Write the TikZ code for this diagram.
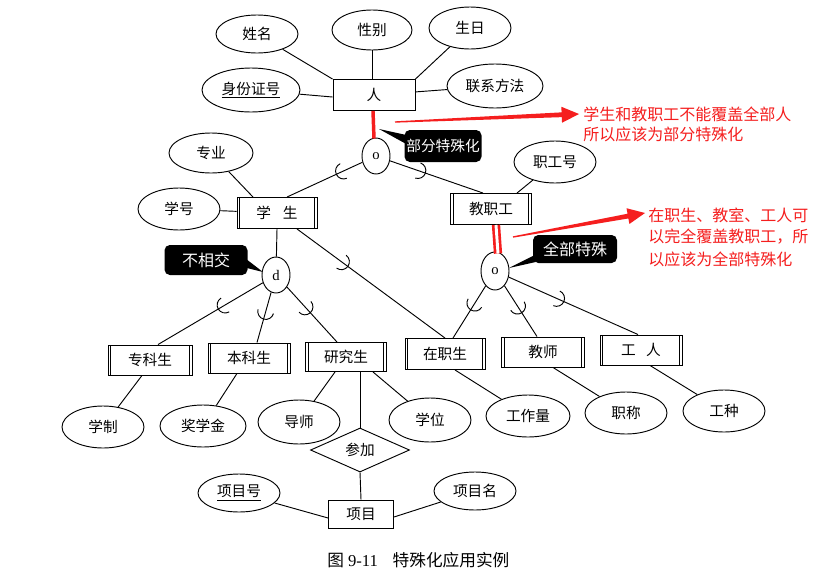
\documentclass[tikz,border=0pt]{standalone}
\usepackage{fontspec}
\setmainfont{Liberation Serif}
\newfontfamily\cjk{Noto Sans CJK SC}
\usetikzlibrary{shapes.geometric,calc,arrows.meta,decorations.markings}

\definecolor{markred}{RGB}{245,30,30}

\tikzset{
  sz/.style 2 args={minimum width=#1*0.75pt, minimum height=#2*0.75pt},
  lbl/.style={font=\cjk\fontsize{11}{13}\selectfont},
  attr/.style={lbl, ellipse, draw, line width=0.7pt, inner sep=0pt},
  ent/.style={lbl, rectangle, draw, line width=0.7pt, inner sep=0pt},
  subent/.style={ent, path picture={
      \draw[line width=0.7pt] ([xshift=2pt]path picture bounding box.north west) -- ([xshift=2pt]path picture bounding box.south west);
      \draw[line width=0.7pt] ([xshift=-2pt]path picture bounding box.north east) -- ([xshift=-2pt]path picture bounding box.south east);}},
  spec/.style={ellipse, draw, line width=0.7pt, inner sep=0pt, font=\fontsize{11}{13}\selectfont},
  rel/.style={lbl, diamond, aspect=2.25, draw, line width=0.7pt, inner sep=0pt},
  link/.style={line width=0.7pt},
  subset/.style={link, postaction={decorate}, decoration={markings,
      mark=at position #1 with {\draw[line width=0.7pt] (0,6pt) arc[start angle=90,end angle=-90,radius=6pt];}}},
  callout/.style={fill=black, rounded corners=4pt, inner sep=0pt, text=white, font=\cjk\fontsize{12}{14}\selectfont},
  redlink/.style={draw=markred, line width=2.6pt},
  note/.style={text=markred, anchor=west, inner sep=0pt, font=\cjk\fontsize{12}{14}\selectfont},
}

% tapered red arrow from #1 to #2
\newcommand\taperarrow[2]{%
  \coordinate (hb) at ($(#2)!13pt!(#1)$);
  \fill[markred] ($(#1)!0.5pt!90:(#2)$) -- ($(hb)!1.8pt!90:(#2)$) -- ($(hb)!6pt!90:(#2)$)
    -- (#2) -- ($(hb)!6pt!-90:(#2)$) -- ($(hb)!1.8pt!-90:(#2)$) -- ($(#1)!0.5pt!-90:(#2)$) -- cycle;}

\begin{document}
\begin{tikzpicture}[x=0.75pt,y=-0.75pt]
\useasboundingbox[fill=white] (0,0) rectangle (821,582);

% ---- person and its attributes
\node[ent, sz={82}{31}] (ren) at (374,95) {人};
\node[attr, sz={82}{38}] (xm) at (257,34) {姓名};
\node[attr, sz={80}{40}] (xb) at (372,30) {性别};
\node[attr, sz={82}{42}] (sr) at (470,28) {生日};
\node[attr, sz={98}{44}] (sfz) at (251,90) {\underline{身份证号}};
\node[attr, sz={96}{44}] (lx) at (495,86) {联系方法};
\draw[link] (xm) -- (ren.north west);
\draw[link] (xb) -- ($(ren.north)+(-2,0)$);
\draw[link] (sr) -- (ren.north east);
\draw[link] (sfz) -- ($(ren.west)+(0,2)$);
\draw[link] (lx) -- (ren);

% ---- first specialisation circle
\node[spec, sz={28}{36}] (c1) at (376,156) {o};
\draw[redlink] ($(ren.south)+(-1,0)$) -- ($(c1.north)+(-2,1)$);

% ---- student / staff
\node[subent, sz={80}{31}] (xs) at (277,213) {学\hspace{0.8em}生};
\node[subent, sz={81}{31}] (jzg) at (491,209) {教职工};
\node[attr, sz={84}{40}] (zy) at (211,153) {专业};
\node[attr, sz={82}{42}] (xh) at (179,209) {学号};
\node[attr, sz={82}{42}] (zgh) at (555,162) {职工号};
\draw[subset=0.25] (c1) -- ($(xs.north)+(10,0)$);
\draw[subset=0.3] (c1) -- ($(jzg.north)+(-8,0)$);
\draw[link] (zy) -- ($(xs.north)+(-24,0)$);
\draw[link] (xh) -- (xs);
\draw[link] (zgh) -- ($(jzg.north)+(26,0)$);

% ---- second and third specialisation circles
\node[spec, sz={28}{36}] (c2) at (276,275) {d};
\node[spec, sz={28}{38}] (c3) at (495,271) {o};
\draw[link] (xs.south) -- (c2);
\draw[draw=markred, line width=2pt, double=white, double distance=2.2pt]
  ($(jzg.south)+(5,0)$) -- ($(c3.north)+(3,2)$);

% ---- subclasses
\node[subent, sz={84}{30}] (zk) at (150,360) {专科生};
\node[subent, sz={82}{30}] (bk) at (249,358) {本科生};
\node[subent, sz={81}{29}] (yjs) at (346,357) {研究生};
\node[subent, sz={80}{31}] (zzs) at (445,354) {在职生};
\node[subent, sz={83}{30}] (js) at (543,352) {教师};
\node[subent, sz={82}{30}] (gr) at (641,350) {工\hspace{0.7em}人};

\draw[subset=0.36] (c2) -- ($(zk.north)+(8,0)$);
\draw[subset=0.38] (c2) -- ($(bk.north)+(8,0)$);
\draw[subset=0.36] (c2) -- ($(yjs.north)+(-9,0)$);
\draw[subset=0.33] (c3) -- ($(zzs.north)+(8,0)$);
\draw[subset=0.4] (c3) -- ($(js.north)+(-6,0)$);
\draw[subset=0.37] (c3) -- ($(gr.north)+(-3,0)$);
\draw[subset=0.3] ($(xs.south)+(20,0)$) -- (zzs.north);

% ---- subclass attributes
\node[attr, sz={82}{42}] (xz) at (103,427) {学制};
\node[attr, sz={86}{42}] (jxj) at (203,426) {奖学金};
\node[attr, sz={82}{44}] (ds) at (299,422) {导师};
\node[attr, sz={82}{44}] (xw) at (430,420) {学位};
\node[attr, sz={84}{42}] (gzl) at (528,416) {工作量};
\node[attr, sz={82}{42}] (zc) at (626,413) {职称};
\node[attr, sz={82}{42}] (gz) at (724,411) {工种};
\draw[link] ($(zk.south)+(-8,0)$) -- (xz);
\draw[link] ($(bk.south)+(-12,0)$) -- (jxj);
\draw[link] ($(yjs.south)+(-11,0)$) -- (ds);
\draw[link] ($(yjs.south)+(27,0)$) -- (xw);
\draw[link] ($(zzs.south)+(10,0)$) -- (gzl);
\draw[link] ($(js.south)+(10,0)$) -- (zc);
\draw[link] ($(gr.south)+(9,0)$) -- (gz);

% ---- project relationship
\node[rel, sz={99}{44}] (cj) at (360,450) {参加};
\node[ent, sz={65}{28}] (proj) at (361,514) {项目};
\node[attr, sz={82}{38}] (xmh) at (239,493) {\underline{项目号}};
\node[attr, sz={82}{38}] (xmm) at (475,491) {项目名};
\draw[link] ($(yjs.south)+(14,0)$) -- (cj.north);
\draw[link] (cj.south) -- (proj.north);
\draw[link] (xmh) -- ($(proj.west)+(0,4)$);
\draw[link] (xmm) -- ($(proj.east)+(0,3)$);

% ---- callouts
\node[callout, sz={77}{32}, font=\cjk\fontsize{11}{13}\selectfont] (co1) at (443,146) {部分特殊化};
\coordinate (t1) at (379,129);
\fill (t1) -- ($(co1.west)+(2,-11)$) -- ($(co1.west)+(2,-2)$) -- cycle;

\node[callout, sz={83}{30}] (co2) at (206,260) {不相交};
\coordinate (t2) at (263,272);
\fill (t2) -- ($(co2.east)+(-3,-2)$) -- ($(co2.east)+(-1,8)$) -- cycle;

\node[callout, sz={84}{28}] (co3) at (575,249) {全部特殊};
\coordinate (t3) at (509,268);
\fill (t3) -- ($(co3.west)+(2,6)$) -- ($(co3.west)+(3,13)$) -- cycle;

% ---- red remarks
\coordinate (a1s) at (395,122);
\coordinate (a1e) at (579,114);
\taperarrow{a1s}{a1e}
\node[note] (n1a) at (583,114) {学生和教职工不能覆盖全部人};
\node[note] (n1b) at (583,134) {所以应该为部分特殊化};

\coordinate (a2s) at (513,237);
\coordinate (a2e) at (645,213);
\taperarrow{a2s}{a2e}
\node[note] (n2a) at (648,215) {在职生、教室、工人可};
\node[note] (n2b) at (648,237) {以完全覆盖教职工，所};
\node[note] (n2c) at (648,259) {以应该为全部特殊化};

% ---- caption
\node[anchor=west, inner sep=0pt, font=\fontsize{12.5}{14}\selectfont] (cap) at (327,560)
  {{\cjk 图} 9-11\hspace{11pt}{\cjk 特殊化应用实例}};
\end{tikzpicture}
\end{document}
